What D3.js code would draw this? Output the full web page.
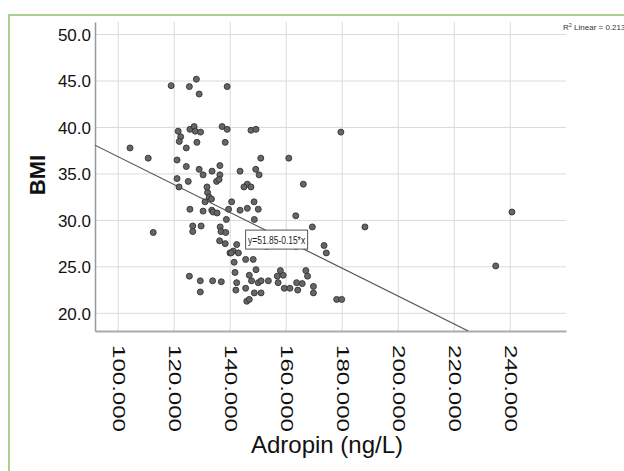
<!DOCTYPE html>
<html><head><meta charset="utf-8">
<script src="https://cdn.jsdelivr.net/npm/d3@7"></script>
<style>html,body{margin:0;padding:0;background:#fff;}svg{display:block;}</style>
</head><body>
<svg id="chart" width="624" height="471"></svg>
<script>
const adropin = [118.9,125.4,127.9,128.9,138.9,121.4,122.3,121.8,125.6,127.1,127.5,129.4,137.1,138.9,138.2,128.1,124.3,104.2,110.7,121.0,124.3,128.9,130.3,133.5,136.3,136.3,121.0,125.0,131.7,135.1,136.0,121.7,147.4,149.2,179.5,150.9,160.9,143.5,149.1,150.3,166.1,146.1,144.9,147.4,131.9,132.5,133.3,131.0,125.6,130.3,133.4,133.9,135.3,139.4,138.6,126.6,126.6,129.6,136.4,136.7,138.4,136.2,138.2,139.9,112.5,125.4,129.3,133.7,136.8,129.3,140.5,143.5,146.1,148.5,150.0,148.6,163.4,142.3,141.1,142.9,140.3,145.5,148.2,141.4,153.0,163.4,169.3,173.5,174.3,141.7,146.8,149.2,147.6,150.0,151.0,153.6,156.8,157.1,158.9,167.0,167.6,163.7,165.7,159.3,161.3,169.7,169.7,164.1,142.3,142.0,145.5,148.6,151.0,145.9,146.8,178.0,179.8,188.1,234.8,240.6,157.9];
const bmi = [44.5,44.4,45.2,43.6,44.4,39.6,39.0,38.5,39.8,40.1,39.6,39.5,40.1,39.8,38.4,38.4,37.8,37.8,36.7,36.5,35.8,35.5,34.9,35.3,35.9,34.9,34.5,34.2,33.6,34.2,34.4,33.6,39.7,39.8,39.5,36.7,36.7,35.3,35.5,34.9,33.9,33.9,33.6,33.6,33.0,32.5,32.3,32.0,31.2,31.0,31.1,30.9,30.8,31.2,30.1,29.4,28.8,29.4,29.3,28.8,28.7,27.8,27.5,26.5,28.7,24.0,23.5,23.5,23.4,22.3,32.0,31.1,31.3,32.0,31.2,30.1,30.5,27.4,26.7,26.5,26.5,25.8,25.8,25.5,27.2,27.2,29.3,27.3,26.5,24.4,24.1,24.7,23.5,23.3,23.5,23.5,24.0,23.3,24.1,24.6,24.0,23.3,23.2,22.7,22.7,22.9,22.2,22.5,23.3,22.5,22.7,22.2,22.2,21.3,21.5,21.5,21.5,29.3,25.1,30.9,24.6];
const xTicks = [100,120,140,160,180,200,220,240];
const yTicks = [20,25,30,35,40,45,50];
const fitIntercept = 51.85, fitSlope = -0.15;
const r2 = 0.213;
const xTitle = "Adropin (ng/L)", yTitle = "BMI";

const svg = d3.select("#chart");
svg.append("rect").attr("width",624).attr("height",471).attr("fill","#fff");
// green frame
svg.append("rect").attr("x",9).attr("y",15).attr("width",640).attr("height",480)
  .attr("fill","none").attr("stroke","#a9d08e").attr("stroke-width",2);

const L=95,R=566,T=22,B=331;
const x = d3.scaleLinear().domain([91.7,259.9]).range([L,R]);
const y = d3.scaleLinear().domain([18.1,51.35]).range([B,T]);

// gridlines
const g = svg.append("g");
g.selectAll(".vg").data(xTicks).join("line")
  .attr("x1",d=>x(d)).attr("x2",d=>x(d)).attr("y1",T).attr("y2",B)
  .attr("stroke","#dadada").attr("stroke-width",1);
g.selectAll(".hg").data(yTicks).join("line")
  .attr("x1",L).attr("x2",R).attr("y1",d=>y(d)).attr("y2",d=>y(d))
  .attr("stroke","#dadada").attr("stroke-width",1);

// axes
const xAxis = svg.append("g").attr("transform",`translate(0,${B})`)
  .call(d3.axisBottom(x).tickValues(xTicks).tickSize(0).tickFormat(d3.format(".3f")));
xAxis.select(".domain").attr("stroke","#aaa").attr("stroke-width",2);
xAxis.selectAll("text")
  .attr("font-family","Liberation Sans, Arial, sans-serif").attr("font-size",16).attr("fill","#111")
  .attr("transform","rotate(90)").attr("x",14).attr("y",0).attr("dy","0.35em")
  .attr("text-anchor","start")
  .attr("textLength",87).attr("lengthAdjust","spacingAndGlyphs");

const yAxis = svg.append("g").attr("transform",`translate(${L},0)`)
  .call(d3.axisLeft(y).tickValues(yTicks).tickSize(0).tickFormat(d3.format(".1f")));
yAxis.select(".domain").attr("stroke","#999").attr("stroke-width",1.5);
yAxis.selectAll("text")
  .attr("font-family","Liberation Sans, Arial, sans-serif").attr("font-size",17).attr("fill","#111")
  .attr("x",-4).attr("dy","0.35em");

// titles
svg.append("text").attr("x",327).attr("y",453).attr("text-anchor","middle")
  .attr("font-family","Liberation Sans, Arial, sans-serif").attr("font-size",24).attr("fill","#111")
  .text(xTitle);
svg.append("text").attr("transform","translate(45,175) rotate(-90)").attr("text-anchor","middle")
  .attr("font-family","Liberation Sans, Arial, sans-serif").attr("font-size",22).attr("font-weight","bold").attr("fill","#111")
  .text(yTitle);

// clip for fit line
svg.append("clipPath").attr("id","pc").append("rect").attr("x",L).attr("y",T).attr("width",R-L).attr("height",B-T);
const xEnd = (y.domain()[0]-fitIntercept)/fitSlope;
svg.append("line").attr("clip-path","url(#pc)")
  .attr("x1",x(x.domain()[0])).attr("y1",y(fitIntercept+fitSlope*x.domain()[0]))
  .attr("x2",x(xEnd)).attr("y2",y(fitIntercept+fitSlope*xEnd))
  .attr("stroke","#555").attr("stroke-width",1.2);

// points
svg.append("g").selectAll("circle").data(adropin).join("circle")
  .attr("cx",d=>x(d)).attr("cy",(d,i)=>y(bmi[i])).attr("r",3)
  .attr("fill","#666").attr("stroke","#333").attr("stroke-width",0.9);

// equation label
const lx = 156.2;
const lg = svg.append("g").attr("transform",`translate(${x(lx)},${y(fitIntercept+fitSlope*lx)+4})`);
lg.append("rect").attr("x",-30).attr("y",-9).attr("width",62).attr("height",19)
  .attr("fill","#fff").attr("stroke","#555").attr("stroke-width",1);
lg.append("text").attr("x",1).attr("y",4.5).attr("text-anchor","middle")
  .attr("font-family","Liberation Sans, Arial, sans-serif").attr("font-size",11).attr("fill","#222")
  .attr("textLength",57).attr("lengthAdjust","spacingAndGlyphs")
  .text(`y=${fitIntercept}-${Math.abs(fitSlope)}*x`);

// R2 label
const rt = svg.append("text").attr("x",563).attr("y",30)
  .attr("font-family","Liberation Sans, Arial, sans-serif").attr("font-size",8).attr("fill","#333");
rt.append("tspan").text("R");
rt.append("tspan").attr("font-size",5.5).attr("dy",-3.5).text("2");
rt.append("tspan").attr("dy",3.5).text(` Linear = ${r2}`);
</script>
</body></html>
